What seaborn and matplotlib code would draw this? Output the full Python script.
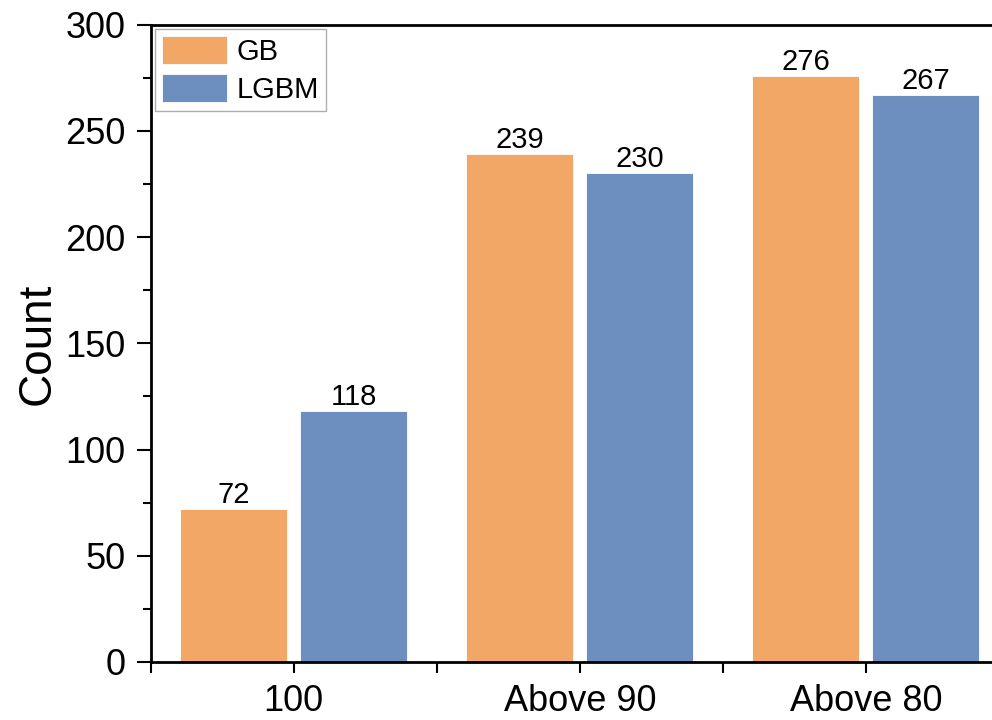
import pandas as pd
import seaborn as sns
import matplotlib.pyplot as plt
from matplotlib.ticker import AutoMinorLocator, FixedLocator

# data
categories = ['100', 'Above 90', 'Above 80']
gb_counts = [72, 239, 276]
lgbm_counts = [118, 230, 267]
models = ['GB', 'LGBM']

df = pd.DataFrame({
    'Category': categories * 2,
    'Count': gb_counts + lgbm_counts,
    'Model': [models[0]] * 3 + [models[1]] * 3,
})

sns.set_style("ticks")
plt.rcParams['font.family'] = ['Liberation Sans', 'DejaVu Sans']
plt.rcParams['text.color'] = 'black'
plt.rcParams['axes.labelcolor'] = 'black'
plt.rcParams['xtick.color'] = 'black'
plt.rcParams['ytick.color'] = 'black'
plt.rcParams['axes.edgecolor'] = 'black'

fig = plt.figure(figsize=(9.92, 7.2), dpi=100)
ax = fig.add_axes([0.152, 0.0806, 0.865, 0.885])

palette = {'GB': '#F3A766', 'LGBM': '#6C8FBF'}
sns.barplot(data=df, x='Category', y='Count', hue='Model', palette=palette,
            width=0.84, gap=0.11, saturation=1, ax=ax,
            edgecolor='white', linewidth=0.6)

for c in ax.containers:
    ax.bar_label(c, fontsize=21, padding=0, color='black')

ax.set_xlim(-0.5, 2.5)
ax.set_ylim(0, 300)
ax.set_xlabel('')
ax.set_ylabel('Count', fontsize=33, labelpad=4)

ax.yaxis.set_minor_locator(AutoMinorLocator(2))
ax.xaxis.set_minor_locator(FixedLocator([-0.5, 0.5, 1.5, 2.5]))
ax.tick_params(axis='y', which='major', labelsize=26, length=10, width=1.5, pad=8)
ax.tick_params(axis='y', which='minor', length=6, width=1.5)
ax.tick_params(axis='x', which='major', labelsize=26, length=8, width=1.5, pad=8)
ax.tick_params(axis='x', which='minor', length=8, width=1.5)

for s in ax.spines.values():
    s.set_linewidth(2)
    s.set_visible(True)

leg = ax.legend(loc='upper left', fontsize=21, frameon=True, fancybox=False,
                handlelength=2.2, handleheight=1.1, borderaxespad=0.15,
                borderpad=0.25, labelspacing=0.25, handletextpad=0.35)
leg.get_frame().set_edgecolor('#999999')
leg.get_frame().set_linewidth(1)
leg.set_title(None)

fig.savefig('out.png', dpi=100)
